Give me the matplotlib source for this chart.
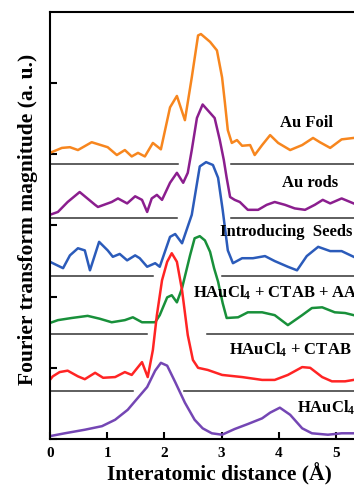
import matplotlib
matplotlib.use("Agg")
import matplotlib.pyplot as plt

plt.rcParams['font.family'] = ['Liberation Serif', 'DejaVu Serif']
plt.rcParams['font.weight'] = 'bold'
plt.rcParams['mathtext.fontset'] = 'custom'
plt.rcParams['mathtext.rm'] = 'Liberation Serif:bold'
plt.rcParams['mathtext.it'] = 'Liberation Serif:bold'
plt.rcParams['mathtext.bf'] = 'Liberation Serif:bold'

# Au foil
foil_r = [0, 0.21, 0.35, 0.49, 0.73, 0.93, 1.01, 1.17, 1.31, 1.43, 1.54, 1.66, 1.80, 1.94,
          2.10, 2.22, 2.36, 2.48, 2.59, 2.64, 2.80, 2.92, 3.01, 3.06, 3.11, 3.18, 3.27, 3.36,
          3.50, 3.58, 3.71, 3.85, 3.99, 4.20, 4.41, 4.60, 4.72, 4.90, 5.10, 5.31]
foil_m = [4.02, 4.09, 4.10, 4.06, 4.17, 4.12, 4.10, 3.99, 4.06, 3.97, 4.02, 3.97, 4.16, 4.07,
          4.66, 4.82, 4.48, 5.08, 5.67, 5.69, 5.58, 5.46, 5.08, 4.72, 4.34, 4.16, 4.20, 4.12,
          4.13, 3.99, 4.13, 4.27, 4.16, 4.06, 4.13, 4.23, 4.17, 4.09, 4.21, 4.23]

# Au rods
rods_r = [0, 0.14, 0.31, 0.52, 0.79, 0.84, 1.08, 1.19, 1.35, 1.49, 1.61, 1.70, 1.78, 1.87,
          1.96, 2.10, 2.22, 2.33, 2.41, 2.48, 2.57, 2.67, 2.88, 2.97, 3.04, 3.09, 3.15, 3.23,
          3.32, 3.46, 3.64, 3.79, 3.93, 4.11, 4.28, 4.46, 4.63, 4.77, 4.90, 5.10, 5.31]
rods_m = [3.15, 3.19, 3.33, 3.47, 3.29, 3.26, 3.33, 3.38, 3.31, 3.41, 3.36, 3.19, 3.38, 3.43,
          3.36, 3.60, 3.74, 3.60, 3.74, 4.06, 4.51, 4.70, 4.51, 4.20, 3.92, 3.67, 3.40, 3.36,
          3.33, 3.22, 3.22, 3.29, 3.33, 3.29, 3.24, 3.22, 3.29, 3.36, 3.31, 3.38, 3.31]

# introducing seeds
seeds_r = [0, 0.23, 0.35, 0.49, 0.61, 0.70, 0.86, 1.01, 1.10, 1.22, 1.35, 1.49, 1.57, 1.70,
           1.84, 1.92, 2.10, 2.19, 2.31, 2.48, 2.62, 2.73, 2.85, 2.94, 3.02, 3.11, 3.20, 3.36,
           3.55, 3.76, 3.93, 4.16, 4.32, 4.49, 4.69, 4.90, 5.10, 5.31]
seeds_m = [2.49, 2.40, 2.58, 2.68, 2.65, 2.37, 2.77, 2.65, 2.56, 2.60, 2.51, 2.58, 2.54, 2.42,
           2.47, 2.42, 2.84, 2.88, 2.75, 3.15, 3.83, 3.89, 3.85, 3.67, 3.22, 2.65, 2.47, 2.54,
           2.54, 2.57, 2.50, 2.42, 2.37, 2.57, 2.70, 2.64, 2.64, 2.56]

# HAuCl4 + CTAB + AA
aa_r = [0, 0.14, 0.38, 0.66, 0.87, 1.08, 1.31, 1.45, 1.61, 1.84, 1.92, 2.05, 2.13, 2.22,
        2.31, 2.38, 2.45, 2.53, 2.62, 2.71, 2.80, 2.87, 2.94, 3.02, 3.09, 3.29, 3.46, 3.71,
        3.93, 4.16, 4.41, 4.58, 4.76, 4.98, 5.16, 5.31]
aa_m = [1.63, 1.67, 1.70, 1.73, 1.69, 1.64, 1.67, 1.71, 1.64, 1.64, 1.74, 1.99, 2.02, 1.92,
        2.12, 2.35, 2.58, 2.82, 2.85, 2.79, 2.63, 2.40, 2.21, 1.91, 1.70, 1.71, 1.78, 1.78,
        1.74, 1.60, 1.74, 1.84, 1.85, 1.78, 1.77, 1.74]

# HAuCl4 + CTAB
ctab_r = [0, 0.05, 0.17, 0.31, 0.49, 0.61, 0.79, 0.93, 1.14, 1.31, 1.43, 1.61, 1.71, 1.80,
          1.87, 1.96, 2.05, 2.13, 2.22, 2.31, 2.41, 2.50, 2.59, 2.76, 3.01, 3.36, 3.71, 3.93,
          4.16, 4.41, 4.55, 4.76, 4.93, 5.16, 5.31]
ctab_m = [0.83, 0.88, 0.94, 0.96, 0.88, 0.84, 0.93, 0.86, 0.87, 0.94, 0.90, 1.08, 0.87, 1.25,
          1.74, 2.23, 2.49, 2.61, 2.49, 2.09, 1.46, 1.11, 1.00, 0.97, 0.90, 0.87, 0.83, 0.83,
          0.90, 1.01, 1.00, 0.87, 0.81, 0.81, 0.83]

# HAuCl4
hau_r = [0, 0.26, 0.61, 0.91, 1.14, 1.36, 1.54, 1.70, 1.84, 1.94, 2.05, 2.19, 2.36, 2.53,
         2.67, 2.83, 3.01, 3.23, 3.46, 3.71, 3.85, 4.02, 4.20, 4.41, 4.58, 4.86, 5.10, 5.31]
hau_m = [0.04, 0.08, 0.13, 0.18, 0.27, 0.41, 0.58, 0.73, 0.96, 1.07, 1.03, 0.80, 0.51, 0.27,
         0.15, 0.08, 0.06, 0.14, 0.21, 0.29, 0.37, 0.44, 0.34, 0.15, 0.08, 0.06, 0.08, 0.08]

# horizontal reference lines (level, left end, right start)
base_y = [3.86, 3.10, 2.29, 1.47, 0.67]
base_l = [2.24, 2.22, 1.80, 1.70, 1.45]
base_r = [3.16, 3.16, 3.01, 2.74, 2.35]

names = ['Au Foil', 'Au rods', 'Introducing  Seeds',
         r'HAuCl$_4$ + CTAB + AA', r'HAuCl$_4$ + CTAB', r'HAuCl$_4$']
name_x = [4.48, 4.55, 2.97, 2.50, 3.13, 4.32]
name_y = [4.44, 3.60, 2.91, 2.05, 1.25, 0.44]
name_ha = ['center', 'center', 'left', 'left', 'left', 'left']

fig = plt.figure(figsize=(3.54, 4.87), dpi=100)
ax = fig.add_axes([0.141, 0.0986, 6 * 57.2 / 354, 0.8768])

ax.plot(foil_r, foil_m, color='#F7861E', lw=1.8)
ax.plot(rods_r, rods_m, color='#8B1E8E', lw=1.8)
ax.plot(seeds_r, seeds_m, color='#2B5BBA', lw=1.8)
ax.plot(aa_r, aa_m, color='#18903A', lw=1.8)
ax.plot(ctab_r, ctab_m, color='#FF2424', lw=1.8)
ax.plot(hau_r, hau_m, color='#7446B4', lw=1.8)

for b, l, r in zip(base_y, base_l, base_r):
    ax.plot([0, l], [b, b], color='#333333', lw=1.1)
    ax.plot([r, 6], [b, b], color='#333333', lw=1.1)

for t, x, y, ha in zip(names, name_x, name_y, name_ha):
    ax.text(x, y, t, ha=ha, va='center', fontsize=12, fontweight='bold')

ax.set_xlim(0, 6)
ax.set_ylim(0, 6)
ax.set_xticks([0, 1, 2, 3, 4, 5])
ax.set_yticks([0, 1, 2, 3, 4, 5])
ax.set_yticklabels([])
ax.tick_params(direction='in', length=5, width=1.5, labelsize=11, pad=6)
for lab in ax.get_xticklabels():
    lab.set_fontweight('bold')
for s in ax.spines.values():
    s.set_linewidth(1.5)

fig.text(28 / 354, 1 - 219 / 487, 'Fourier transform magnitude (a. u.)', rotation=90,
         ha='center', va='center', fontsize=15.5, fontweight='bold')
fig.text(219 / 354, 1 - 474 / 487, 'Interatomic distance (Å)',
         ha='center', va='center', fontsize=15.5, fontweight='bold')

fig.savefig('out.png', dpi=100)
